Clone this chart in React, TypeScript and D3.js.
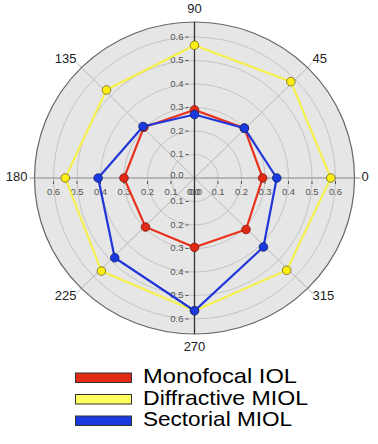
import React from "react";
import * as d3 from "d3";

const angles = [0, 45, 90, 135, 180, 225, 270, 315];
const monofocal = [0.29, 0.3, 0.29, 0.305, 0.3, 0.295, 0.295, 0.31];
const diffractive = [0.58, 0.58, 0.565, 0.53, 0.55, 0.56, 0.565, 0.555];
const sectorial = [0.35, 0.3, 0.27, 0.31, 0.41, 0.48, 0.565, 0.415];
const radialTicks = [0.1, 0.2, 0.3, 0.4, 0.5, 0.6];
const tickLabels = ["0.0", "0.1", "0.2", "0.3", "0.4", "0.5", "0.6"];
const seriesNames = ["Monofocal IOL", "Diffractive MIOL", "Sectorial MIOL"];

const W = 378;
const H = 444;
const cx = 194.5;
const cy = 178;
const outerRx = 160;
const outerRy = 156;

const r = d3.scaleLinear().domain([0, 0.6]).range([0, 141]);

const series = [
  { name: seriesNames[0], values: monofocal, line: "#e8321e", fill: "#e02a14", stroke: "#7a1a10" },
  { name: seriesNames[1], values: diffractive, line: "#f4f050", fill: "#ffee10", stroke: "#6a6420" },
  { name: seriesNames[2], values: sectorial, line: "#2136d8", fill: "#1a3ae0", stroke: "#10206a" },
];

function pt(angleDeg: number, v: number): [number, number] {
  const a = (angleDeg * Math.PI) / 180;
  return [cx + r(v) * Math.cos(a), cy - r(v) * Math.sin(a)];
}

export default function App() {
  const lineGen = d3
    .line<[number, number]>()
    .x((d) => d[0])
    .y((d) => d[1])
    .curve(d3.curveLinearClosed);

  const font = "Arial, 'Liberation Sans', sans-serif";

  const angleLabelR = 167;
  return (
    <svg width={W} height={H} style={{ position: "absolute", left: 0, top: 0, background: "#fff" }}>
      <ellipse cx={cx} cy={cy} rx={outerRx} ry={outerRy} fill="#e6e6e6" stroke="none" />
      {radialTicks.map((t) => (
        <circle key={t} cx={cx} cy={cy} r={r(t)} fill="none" stroke="#c4c4c4" strokeWidth={1} />
      ))}
      {[45, 135, 225, 315].map((a) => {
        const rad = (a * Math.PI) / 180;
        const x2 = cx + (outerRx + 7) * Math.cos(rad);
        const y2 = cy - (outerRy + 7) * Math.sin(rad);
        return <line key={a} x1={cx} y1={cy} x2={x2} y2={y2} stroke="#b8b8b8" strokeWidth={1} />;
      })}
      <ellipse cx={cx} cy={cy} rx={outerRx} ry={outerRy} fill="none" stroke="#666" strokeWidth={1.2} />
      {/* horizontal axis */}
      <line x1={cx - outerRx - 5} y1={cy} x2={cx + outerRx + 6} y2={cy} stroke="#888" strokeWidth={1} />
      {/* vertical axis */}
      <line x1={cx} y1={cy - outerRy} x2={cx} y2={cy + outerRy} stroke="#333" strokeWidth={1.3} />

      {/* vertical axis ticks and labels */}
      {[1, -1].map((dir) =>
        tickLabels.map((lbl, i) => {
          const v = i / 10;
          const y = cy - dir * r(v);
          if (i === 0 && dir === -1) return null;
          return (
            <g key={`v${dir}${i}`}>
              {i > 0 && <line x1={cx - 9} x2={cx - 6} y1={y} y2={y} stroke="#555" strokeWidth={1} />}
              <text
                x={cx - 11}
                y={i === 0 ? y - 3 : y}
                textAnchor="end"
                dominantBaseline="middle"
                fontFamily={font}
                fontSize={9.5}
                fill="#555"
              >
                {lbl}
              </text>
            </g>
          );
        })
      )}
      {/* horizontal axis ticks and labels */}
      {[1, -1].map((dir) =>
        tickLabels.map((lbl, i) => {
          const v = i / 10;
          const x = cx + dir * r(v) + (i === 0 ? dir * 1 : 0);
          return (
            <g key={`h${dir}${i}`}>
              {i > 0 && <line x1={x} x2={x} y1={cy + 3} y2={cy + 6} stroke="#555" strokeWidth={1} />}
              <text
                x={x}
                y={cy + 14}
                textAnchor="middle"
                dominantBaseline="middle"
                fontFamily={font}
                fontSize={9.5}
                fill="#555"
              >
                {lbl}
              </text>
            </g>
          );
        })
      )}

      {/* angle labels */}
      {angles.map((a) => {
        const rad = (a * Math.PI) / 180;
        const c = Math.cos(rad);
        const s = Math.sin(rad);
        const x = cx + angleLabelR * c;
        const y = cy - angleLabelR * s + (a === 90 ? -1 : a === 270 ? 3 : 0);
        const anchor = Math.abs(c) < 0.1 ? "middle" : c > 0 ? "start" : "end";
        return (
          <text
            key={a}
            x={x}
            y={y}
            textAnchor={anchor}
            dominantBaseline="middle"
            fontFamily={font}
            fontSize={13}
            fill="#222"
          >
            {a}
          </text>
        );
      })}

      {/* series */}
      {series.map((s) => {
        const pts = angles.map((a, i) => pt(a, s.values[i]));
        return (
          <g key={s.name}>
            <path d={lineGen(pts) || ""} fill="none" stroke={s.line} strokeWidth={2.2} />
            {pts.map((p, i) => (
              <circle key={i} cx={p[0]} cy={p[1]} r={4.3} fill={s.fill} stroke={s.stroke} strokeWidth={0.8} />
            ))}
          </g>
        );
      })}

      {/* legend */}
      {series.map((s, i) => {
        const y0 = 373 + i * 21.5;
        return (
          <g key={`leg${i}`}>
            <rect x={75.5} y={y0} width={56} height={9.5} fill={s.line === "#f4f050" ? "#ffff60" : s.fill} stroke="#333" strokeWidth={1} />
            <text
              x={143}
              y={y0 + 10}
              fontFamily={font}
              fontSize={21}
              fill="#000"
              textLength={[154, 165, 149][i]}
              lengthAdjust="spacingAndGlyphs"
            >
              {s.name}
            </text>
          </g>
        );
      })}
    </svg>
  );
}
